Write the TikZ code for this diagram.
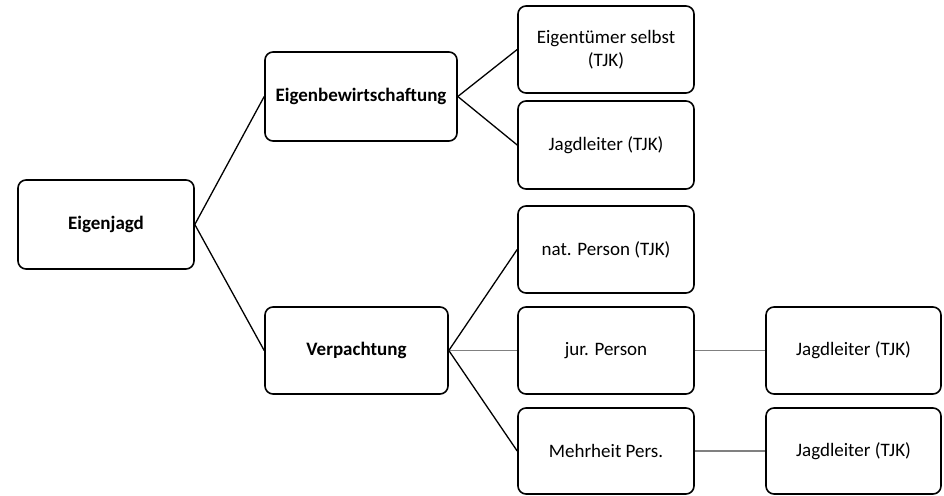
\documentclass[tikz,border=0pt]{standalone}
\usepackage{fontspec}
\setmainfont{Carlito}
\usetikzlibrary{positioning}

\begin{document}
\begin{tikzpicture}[
        x=1pt, y=-1pt,
        box/.style={draw, rounded corners=8pt, line width=1.6pt, minimum width=176pt, minimum height=88pt, align=center, inner sep=0pt, font=\fontsize{19}{23}\selectfont},
        head/.style={box, font=\fontsize{19}{23}\selectfont\bfseries},
        link/.style={line width=1.3pt},
        flat/.style={line width=1.8pt, draw=black!50}
        ]
        \useasboundingbox (0,0) rectangle (944,495);

        % Nodes
        \node[head, minimum height=89pt] (eigenjagd) at (106,224.5) {Eigenjagd};
        \node[head, minimum width=192pt, minimum height=89pt] (eigenbew) at (361,96.5) {Eigenbewirtschaftung};
        \node[head, minimum width=183pt, minimum height=87pt] (verpachtung) at (356.5,350.5) {Verpachtung};
        \node[box, minimum height=87pt] (selbst) at (606,49.5) {Eigentümer selbst\\(TJK)};
        \node[box] (leiterA) at (606,145) {Jagdleiter (TJK)};
        \node[box, minimum height=87pt] (natperson) at (606,249.5) {nat. Person (TJK)};
        \node[box, minimum height=87pt] (jurperson) at (606,350.5) {jur. Person};
        \node[box, minimum height=86pt] (mehrheit) at (606,451) {Mehrheit Pers.};
        \node[box, minimum width=175pt, minimum height=87pt] (leiterB) at (853.5,350.5) {Jagdleiter (TJK)};
        \node[box, minimum width=175pt, minimum height=86pt] (leiterC) at (853.5,451) {Jagdleiter (TJK)};

        % Lines
        \draw[link] (eigenjagd.east) -- (eigenbew.west);
        \draw[link] (eigenjagd.east) -- (verpachtung.west);
        \draw[link] (eigenbew.east) -- (selbst.west);
        \draw[link] (eigenbew.east) -- (leiterA.west);
        \draw[link] (verpachtung.east) -- (natperson.west);
        \draw[flat] (verpachtung.east) -- (jurperson.west);
        \draw[link] (verpachtung.east) -- (mehrheit.west);
        \draw[flat] (jurperson.east) -- (leiterB.west);
        \draw[flat] (mehrheit.east) -- (leiterC.west);

\end{tikzpicture}
\end{document}
